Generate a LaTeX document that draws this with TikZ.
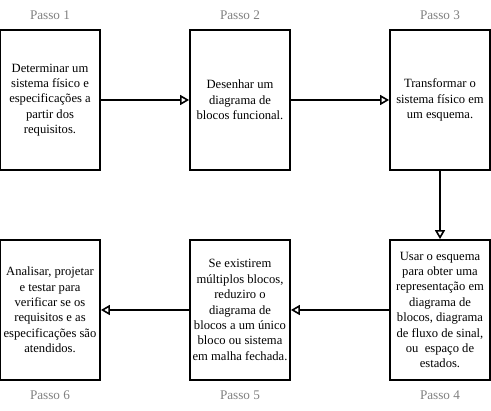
\documentclass[tikz,border=0pt]{standalone}
\usepackage{fontspec}
\setmainfont{Liberation Serif}
\usetikzlibrary{arrows.meta}
\begin{document}
\begin{tikzpicture}[x=1pt,y=-1pt,
  stepbox/.style={draw, line width=1.8pt, minimum width=100pt, minimum height=140pt, inner sep=0pt,
    align=center, font=\fontsize{12.6}{15.4}\selectfont},
  steplabel/.style={text=black!50, font=\fontsize{13.2}{15}\selectfont},
  conn/.style={draw, line width=2pt, -{Triangle[open, length=9pt, width=10pt, line width=1.6pt]}}]
\useasboundingbox (0,0) rectangle (491,411);
\node[stepbox] (b1) at (50,100) {Determinar um\\sistema físico e\\especificações a\\partir dos\\requisitos.};
\node[stepbox] (b2) at (240,100) {Desenhar um\\diagrama de\\blocos funcional.};
\node[stepbox] (b3) at (440,100) {Transformar o\\sistema físico em\\um esquema.};
\node[stepbox] (b4) at (440,310) {Usar o esquema\\para obter uma\\representação em\\diagrama de\\blocos, diagrama\\de fluxo de sinal,\\ou\ \ espaço de\\estados.};
\node[stepbox] (b5) at (240,310) {Se existirem\\múltiplos blocos,\\reduziro o\\diagrama de\\blocos a um único\\bloco ou sistema\\em malha fechada.};
\node[stepbox] (b6) at (50,310) {Analisar, projetar\\e testar para\\verificar se os\\requisitos e as\\especificações são\\atendidos.};
\node[steplabel] (l1) at (50,15) {Passo 1};
\node[steplabel] (l2) at (240,15) {Passo 2};
\node[steplabel] (l3) at (440,15) {Passo 3};
\node[steplabel] (l4) at (440,395) {Passo 4};
\node[steplabel] (l5) at (240,395) {Passo 5};
\node[steplabel] (l6) at (50,395) {Passo 6};
\draw[conn] (b1) -- (b2);
\draw[conn] (b2) -- (b3);
\draw[conn] (b3) -- (b4);
\draw[conn] (b4) -- (b5);
\draw[conn] (b5) -- (b6);
\end{tikzpicture}
\end{document}
